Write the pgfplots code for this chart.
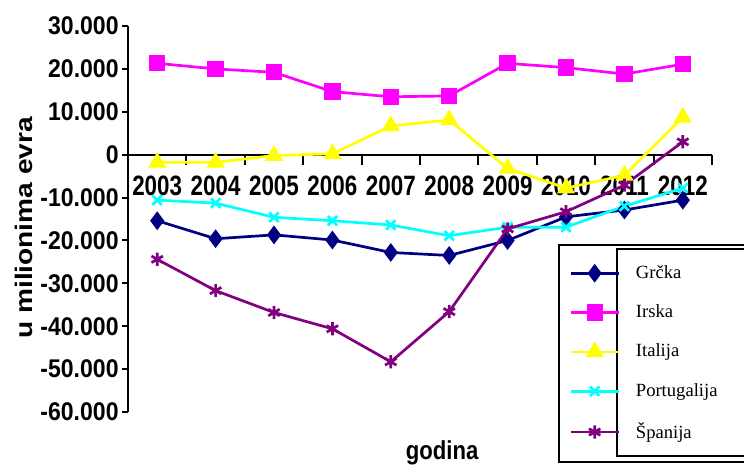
\documentclass[border=0pt]{standalone}
\usepackage{fontspec}
\setmainfont{Liberation Serif}
\setsansfont{Liberation Sans}
\newfontfamily\ytickfont{Liberation Sans}[FakeStretch=0.9]
\newfontfamily\xtickfont{Liberation Sans}[FakeStretch=0.8]
\newfontfamily\ylabfont{Liberation Sans}[FakeStretch=1.17]
\newfontfamily\xlabfont{Liberation Sans}[FakeStretch=0.85]
\usepackage{pgfplots}
\pgfplotsset{compat=1.18}
\definecolor{cNavy}{RGB}{0,0,128}
\definecolor{cMag}{RGB}{255,0,255}
\definecolor{cYel}{RGB}{255,255,0}
\definecolor{cCyan}{RGB}{0,255,255}
\definecolor{cPurp}{RGB}{128,0,128}
\begin{document}
\begin{tikzpicture}
\clip (0,0) rectangle (372pt,233pt);
\begin{axis}[
  at={(64pt,27pt)}, anchor=south west,
  scale only axis, width=292pt, height=193pt,
  xmin=-0.5, xmax=9.5, ymin=-60000, ymax=30000,
  scaled y ticks=false,
  axis x line*=middle, axis y line*=left,
  axis line style={line width=1pt},
  xtick={0,1,2,3,4,5,6,7,8,9},
  xticklabels={2003,2004,2005,2006,2007,2008,2009,2010,2011,2012},
  major x tick style={draw=none},
  minor xtick={0.5,1.5,2.5,3.5,4.5,5.5,6.5,7.5,8.5,9.5},
  minor x tick style={line width=1pt, black},
  minor tick length=5pt,
  tick align=outside,
  ytick={-60000,-50000,-40000,-30000,-20000,-10000,0,10000,20000,30000},
  yticklabels={-60.000,-50.000,-40.000,-30.000,-20.000,-10.000,0,10.000,20.000,30.000},
  major y tick style={line width=1pt, black},
  major tick length=3pt,
  yticklabel style={font=\ytickfont\bfseries\fontsize{12.8}{13}\selectfont, inner sep=1pt, xshift=-0.5pt},
  xticklabel style={font=\xtickfont\bfseries\fontsize{14}{14}\selectfont, inner sep=1pt, yshift=-6.5pt},
  clip=false,
  legend style={at={(axis description cs:0.738,0.433)}, anchor=north west,
    draw=none, fill=none, inner xsep=5pt, inner ysep=8pt,
    font=\fontsize{9.3}{11}\selectfont, row sep=7.7pt},
  legend cell align=left,
  legend image code/.code={\draw[mark repeat=2,mark phase=2,#1] plot coordinates {(0cm,0cm) (0.42cm,0cm) (0.84cm,0cm)};},
  /tikz/every odd column/.append style={column sep=6pt},
  every axis plot/.append style={line width=1.35pt},
]
\fill[white] (axis description cs:0.738,0.433) rectangle (axis description cs:1.12,-0.129);
\draw[line width=0.8pt] (axis description cs:0.738,0.433) rectangle (axis description cs:1.0965,-0.129);
\draw[line width=1pt] (axis description cs:0.8376,0.4223) rectangle (axis description cs:1.1,-0.114);
\addplot[color=cNavy, mark=diamond*, mark size=3.6pt, mark options={solid, fill=cNavy}] coordinates {
(0,-15400) (1,-19600) (2,-18700) (3,-19900) (4,-22800) (5,-23500) (6,-20000) (7,-14500) (8,-12900) (9,-10600)};
\addlegendentry{Grčka}
\addplot[color=cMag, mark=square*, mark size=3.4pt, mark options={solid, fill=cMag}] coordinates {
(0,21300) (1,20000) (2,19200) (3,14700) (4,13500) (5,13700) (6,21300) (7,20300) (8,18800) (9,21100)};
\addlegendentry{Irska}
\addplot[color=cYel, mark=triangle*, mark size=3.9pt, mark options={solid, fill=cYel}] coordinates {
(0,-1800) (1,-1800) (2,-200) (3,200) (4,6700) (5,8100) (6,-3200) (7,-7800) (8,-4800) (9,8700)};
\addlegendentry{Italija}
\addplot[color=cCyan, mark=x, mark size=3.3pt, mark options={solid}] coordinates {
(0,-10600) (1,-11300) (2,-14600) (3,-15400) (4,-16400) (5,-18900) (6,-16900) (7,-16900) (8,-12000) (9,-7800)};
\addlegendentry{Portugalija}
\addplot[color=cPurp, mark=asterisk, mark size=3.3pt, mark options={solid}] coordinates {
(0,-24400) (1,-31700) (2,-36800) (3,-40600) (4,-48300) (5,-36600) (6,-17300) (7,-13300) (8,-7100) (9,3000)};
\addlegendentry{Španija}
\node[rotate=90, anchor=center, font=\ylabfont\bfseries\fontsize{12}{12}\selectfont] at (axis description cs:-0.178,0.477) {u milionima evra};
\node[anchor=base, font=\xlabfont\bfseries\fontsize{13}{13}\selectfont] at (axis description cs:0.538,-0.124) {godina};
\end{axis}
\end{tikzpicture}
\end{document}
